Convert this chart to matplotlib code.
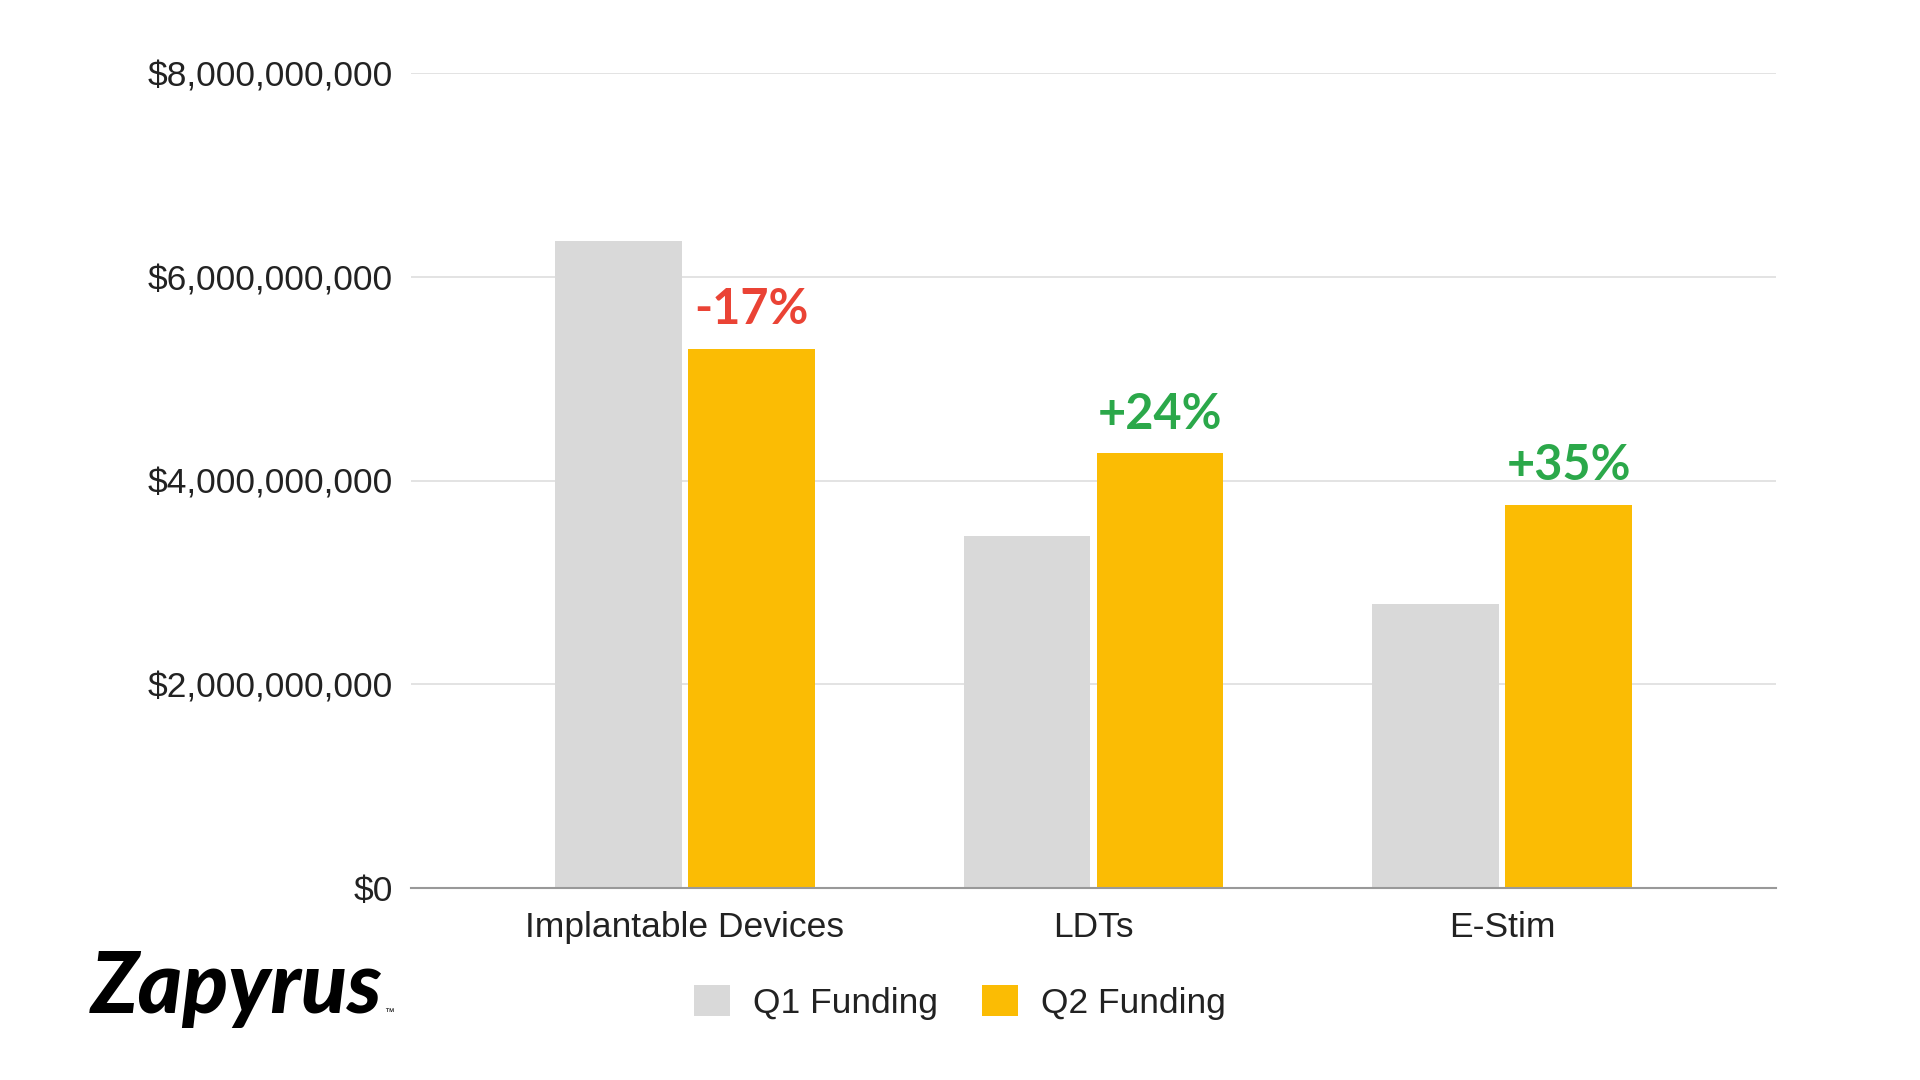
import numpy as np
import matplotlib.pyplot as plt
from matplotlib.ticker import FuncFormatter

categories = ['Implantable Devices', 'LDTs', 'E-Stim']
q1_funding = [6.355e9, 3.46e9, 2.79e9]
q2_funding = [5.295e9, 4.27e9, 3.765e9]
change_labels = ['-17%', '+24%', '+35%']
change_colors = ['#ea4335', '#2ba84a', '#2ba84a']

plt.rcParams['font.family'] = ['Liberation Sans', 'DejaVu Sans']

fig = plt.figure(figsize=(19.2, 10.8), dpi=100)
ax = fig.add_axes([0.2141, 0.1778, 0.7109, 0.7542])

x = np.arange(len(categories))
w = 0.31
off = 0.163
b1 = ax.bar(x - off, q1_funding, w, color='#d9d9d9', label='Q1 Funding')
b2 = ax.bar(x + off, q2_funding, w, color='#fbbc04', label='Q2 Funding')

for bar, lab, col in zip(b2, change_labels, change_colors):
    ax.annotate(lab, (bar.get_x() + bar.get_width() / 2, bar.get_height()),
                xytext=(0, 12), textcoords='offset points', ha='center', va='bottom',
                fontsize=35, fontweight='bold', color=col, family=['Lato', 'DejaVu Sans'])

ax.set_xlim(-0.67, 2.67)
ax.set_ylim(0, 8e9)
ax.set_yticks([0, 2e9, 4e9, 6e9, 8e9])
ax.yaxis.set_major_formatter(FuncFormatter(lambda v, p: '${:,.0f}'.format(v)))
ax.set_xticks(x)
ax.set_xticklabels(categories)
ax.tick_params(axis='both', length=0, labelsize=25.5, colors='#222222')
ax.tick_params(axis='y', pad=13)
ax.tick_params(axis='x', pad=16.5)
ax.grid(axis='y', color='#e0e0e0', linewidth=1.3)
ax.set_axisbelow(True)
for s in ['top', 'right', 'left']:
    ax.spines[s].set_visible(False)
ax.spines['bottom'].set_color('#999999')
ax.spines['bottom'].set_linewidth(1.5)

leg = fig.legend(handles=[b1, b2], loc='center', bbox_to_anchor=(0.5, 0.072), ncol=2,
                 frameon=False, fontsize=25.5, handlelength=1.0, handleheight=1.0,
                 handletextpad=0.65, columnspacing=1.25)
for t in leg.get_texts():
    t.set_color('#222222')

# logo
fig.text(0.047, 0.085, 'Zapyrus', fontsize=61, fontweight='black', fontstyle='italic',
         family=['Lato', 'DejaVu Sans'], color='black', va='center', ha='left')
fig.text(0.2, 0.06, '™', fontsize=7, color='black')

fig.savefig('out.png', dpi=100, facecolor='white')
